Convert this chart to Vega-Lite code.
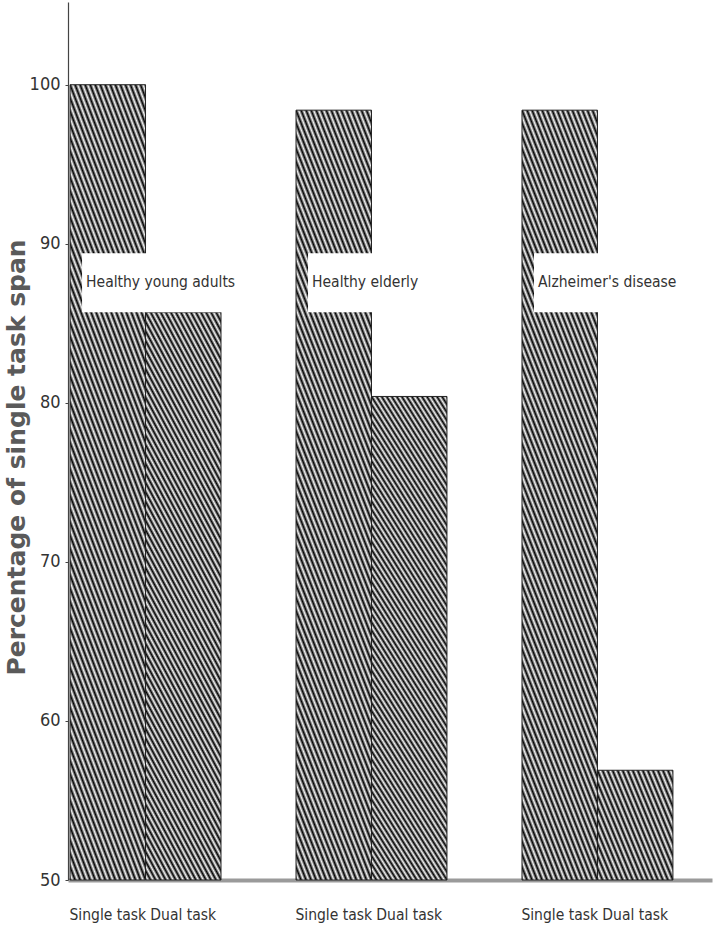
{
  "$schema": "https://vega.github.io/schema/vega-lite/v6.json",
  "width": 644,
  "height": 878,
  "autosize": {"type": "none"},
  "padding": {"left": 68, "top": 2, "right": 7, "bottom": 67},
  "background": "white",
  "config": {"view": {"stroke": null}},
  "data": {
    "values": [
      {"group": "Healthy young adults", "task": "Single task", "value": 100},
      {"group": "Healthy young adults", "task": "Dual task", "value": 85.7},
      {"group": "Healthy elderly", "task": "Single task", "value": 98.4},
      {"group": "Healthy elderly", "task": "Dual task", "value": 80.4},
      {"group": "Alzheimer's disease", "task": "Single task", "value": 98.4},
      {"group": "Alzheimer's disease", "task": "Dual task", "value": 56.9}
    ]
  },
  "encoding": {
    "x": {
      "field": "group",
      "type": "nominal",
      "sort": ["Healthy young adults", "Healthy elderly", "Alzheimer's disease"],
      "scale": {"paddingInner": 0.332, "paddingOuter": 0.091, "align": 0.05},
      "axis": {"labels": false, "ticks": false, "title": null, "domainColor": "#9a9a9a", "domainWidth": 4}
    }
  },
  "layer": [
    {
      "mark": {"type": "bar", "stroke": "#222", "strokeWidth": 1},
      "encoding": {
        "xOffset": {"field": "task", "type": "nominal", "sort": ["Single task", "Dual task"], "scale": {"paddingInner": 0, "paddingOuter": 0}},
        "y": {
          "field": "value",
          "type": "quantitative",
          "scale": {"domain": [50, 105.2], "nice": false, "zero": false},
          "axis": {
            "values": [50, 60, 70, 80, 90, 100],
            "grid": false,
            "domainColor": "#444",
            "domainWidth": 1.2,
            "tickColor": "#444",
            "tickSize": 3,
            "labelPadding": 5,
            "labelFont": "DejaVu Sans Condensed",
            "labelFontSize": 18,
            "labelColor": "#333",
            "title": "Percentage of single task span",
            "titleFont": "DejaVu Sans",
            "titleFontWeight": "bold",
            "titleFontSize": 25,
            "titleColor": "#5a5a5a",
            "titleAngle": 270,
            "titleAlign": "center",
            "titleBaseline": "middle",
            "titleX": -52,
            "titleY": 455
          }
        },
        "y2": {"datum": 50},
        "fill": {
          "condition": [
            {
              "test": "datum.value < 70",
              "value": {
                "gradient": "linear", "x1": 0, "y1": 1, "x2": 3.676, "y2": -1.206,
                "stops": [
                  {"offset":0,"color":"#000"},{"offset":0.0067,"color":"#f4f4f4"},{"offset":0.0133,"color":"#000"},
                  {"offset":0.02,"color":"#f4f4f4"},{"offset":0.0267,"color":"#000"},{"offset":0.0333,"color":"#f4f4f4"},
                  {"offset":0.04,"color":"#000"},{"offset":0.0467,"color":"#f4f4f4"},{"offset":0.0533,"color":"#000"},
                  {"offset":0.06,"color":"#f4f4f4"},{"offset":0.0667,"color":"#000"},{"offset":0.0733,"color":"#f4f4f4"},
                  {"offset":0.08,"color":"#000"},{"offset":0.0867,"color":"#f4f4f4"},{"offset":0.0933,"color":"#000"},
                  {"offset":0.1,"color":"#f4f4f4"},{"offset":0.1067,"color":"#000"},{"offset":0.1133,"color":"#f4f4f4"},
                  {"offset":0.12,"color":"#000"},{"offset":0.1267,"color":"#f4f4f4"},{"offset":0.1333,"color":"#000"},
                  {"offset":0.14,"color":"#f4f4f4"},{"offset":0.1467,"color":"#000"},{"offset":0.1533,"color":"#f4f4f4"},
                  {"offset":0.16,"color":"#000"},{"offset":0.1667,"color":"#f4f4f4"},{"offset":0.1733,"color":"#000"},
                  {"offset":0.18,"color":"#f4f4f4"},{"offset":0.1867,"color":"#000"},{"offset":0.1933,"color":"#f4f4f4"},
                  {"offset":0.2,"color":"#000"},{"offset":0.2067,"color":"#f4f4f4"},{"offset":0.2133,"color":"#000"},
                  {"offset":0.22,"color":"#f4f4f4"},{"offset":0.2267,"color":"#000"},{"offset":0.2333,"color":"#f4f4f4"},
                  {"offset":0.24,"color":"#000"},{"offset":0.2467,"color":"#f4f4f4"},{"offset":0.2533,"color":"#000"},
                  {"offset":0.26,"color":"#f4f4f4"},{"offset":0.2667,"color":"#000"},{"offset":0.2733,"color":"#f4f4f4"},
                  {"offset":0.28,"color":"#000"},{"offset":0.2867,"color":"#f4f4f4"},{"offset":0.2933,"color":"#000"},
                  {"offset":0.3,"color":"#f4f4f4"},{"offset":0.3067,"color":"#000"},{"offset":0.3133,"color":"#f4f4f4"},
                  {"offset":0.32,"color":"#000"},{"offset":0.3267,"color":"#f4f4f4"},{"offset":0.3333,"color":"#000"},
                  {"offset":0.34,"color":"#f4f4f4"},{"offset":0.3467,"color":"#000"},{"offset":0.3533,"color":"#f4f4f4"}
                ]
              }
            }
          ],
          "value": {
            "gradient": "linear", "x1": 0, "y1": 1, "x2": 0.2941, "y2": -0.1765,
            "stops": [
              {"offset":0,"color":"#000"},{"offset":0.0067,"color":"#f4f4f4"},{"offset":0.0133,"color":"#000"},
              {"offset":0.02,"color":"#f4f4f4"},{"offset":0.0267,"color":"#000"},{"offset":0.0333,"color":"#f4f4f4"},
              {"offset":0.04,"color":"#000"},{"offset":0.0467,"color":"#f4f4f4"},{"offset":0.0533,"color":"#000"},
              {"offset":0.06,"color":"#f4f4f4"},{"offset":0.0667,"color":"#000"},{"offset":0.0733,"color":"#f4f4f4"},
              {"offset":0.08,"color":"#000"},{"offset":0.0867,"color":"#f4f4f4"},{"offset":0.0933,"color":"#000"},
              {"offset":0.1,"color":"#f4f4f4"},{"offset":0.1067,"color":"#000"},{"offset":0.1133,"color":"#f4f4f4"},
              {"offset":0.12,"color":"#000"},{"offset":0.1267,"color":"#f4f4f4"},{"offset":0.1333,"color":"#000"},
              {"offset":0.14,"color":"#f4f4f4"},{"offset":0.1467,"color":"#000"},{"offset":0.1533,"color":"#f4f4f4"},
              {"offset":0.16,"color":"#000"},{"offset":0.1667,"color":"#f4f4f4"},{"offset":0.1733,"color":"#000"},
              {"offset":0.18,"color":"#f4f4f4"},{"offset":0.1867,"color":"#000"},{"offset":0.1933,"color":"#f4f4f4"},
              {"offset":0.2,"color":"#000"},{"offset":0.2067,"color":"#f4f4f4"},{"offset":0.2133,"color":"#000"},
              {"offset":0.22,"color":"#f4f4f4"},{"offset":0.2267,"color":"#000"},{"offset":0.2333,"color":"#f4f4f4"},
              {"offset":0.24,"color":"#000"},{"offset":0.2467,"color":"#f4f4f4"},{"offset":0.2533,"color":"#000"},
              {"offset":0.26,"color":"#f4f4f4"},{"offset":0.2667,"color":"#000"},{"offset":0.2733,"color":"#f4f4f4"},
              {"offset":0.28,"color":"#000"},{"offset":0.2867,"color":"#f4f4f4"},{"offset":0.2933,"color":"#000"},
              {"offset":0.3,"color":"#f4f4f4"},{"offset":0.3067,"color":"#000"},{"offset":0.3133,"color":"#f4f4f4"},
              {"offset":0.32,"color":"#000"},{"offset":0.3267,"color":"#f4f4f4"},{"offset":0.3333,"color":"#000"},
              {"offset":0.34,"color":"#f4f4f4"},{"offset":0.3467,"color":"#000"},{"offset":0.3533,"color":"#f4f4f4"},
              {"offset":0.36,"color":"#000"},{"offset":0.3667,"color":"#f4f4f4"},{"offset":0.3733,"color":"#000"},
              {"offset":0.38,"color":"#f4f4f4"},{"offset":0.3867,"color":"#000"},{"offset":0.3933,"color":"#f4f4f4"},
              {"offset":0.4,"color":"#000"},{"offset":0.4067,"color":"#f4f4f4"},{"offset":0.4133,"color":"#000"},
              {"offset":0.42,"color":"#f4f4f4"},{"offset":0.4267,"color":"#000"},{"offset":0.4333,"color":"#f4f4f4"},
              {"offset":0.44,"color":"#000"},{"offset":0.4467,"color":"#f4f4f4"},{"offset":0.4533,"color":"#000"},
              {"offset":0.46,"color":"#f4f4f4"},{"offset":0.4667,"color":"#000"},{"offset":0.4733,"color":"#f4f4f4"},
              {"offset":0.48,"color":"#000"},{"offset":0.4867,"color":"#f4f4f4"},{"offset":0.4933,"color":"#000"},
              {"offset":0.5,"color":"#f4f4f4"},{"offset":0.5067,"color":"#000"},{"offset":0.5133,"color":"#f4f4f4"},
              {"offset":0.52,"color":"#000"},{"offset":0.5267,"color":"#f4f4f4"},{"offset":0.5333,"color":"#000"},
              {"offset":0.54,"color":"#f4f4f4"},{"offset":0.5467,"color":"#000"},{"offset":0.5533,"color":"#f4f4f4"},
              {"offset":0.56,"color":"#000"},{"offset":0.5667,"color":"#f4f4f4"},{"offset":0.5733,"color":"#000"},
              {"offset":0.58,"color":"#f4f4f4"},{"offset":0.5867,"color":"#000"},{"offset":0.5933,"color":"#f4f4f4"},
              {"offset":0.6,"color":"#000"},{"offset":0.6067,"color":"#f4f4f4"},{"offset":0.6133,"color":"#000"},
              {"offset":0.62,"color":"#f4f4f4"},{"offset":0.6267,"color":"#000"},{"offset":0.6333,"color":"#f4f4f4"},
              {"offset":0.64,"color":"#000"},{"offset":0.6467,"color":"#f4f4f4"},{"offset":0.6533,"color":"#000"},
              {"offset":0.66,"color":"#f4f4f4"},{"offset":0.6667,"color":"#000"},{"offset":0.6733,"color":"#f4f4f4"},
              {"offset":0.68,"color":"#000"},{"offset":0.6867,"color":"#f4f4f4"},{"offset":0.6933,"color":"#000"},
              {"offset":0.7,"color":"#f4f4f4"},{"offset":0.7067,"color":"#000"},{"offset":0.7133,"color":"#f4f4f4"},
              {"offset":0.72,"color":"#000"},{"offset":0.7267,"color":"#f4f4f4"},{"offset":0.7333,"color":"#000"},
              {"offset":0.74,"color":"#f4f4f4"},{"offset":0.7467,"color":"#000"},{"offset":0.7533,"color":"#f4f4f4"},
              {"offset":0.76,"color":"#000"},{"offset":0.7667,"color":"#f4f4f4"},{"offset":0.7733,"color":"#000"},
              {"offset":0.78,"color":"#f4f4f4"},{"offset":0.7867,"color":"#000"},{"offset":0.7933,"color":"#f4f4f4"},
              {"offset":0.8,"color":"#000"},{"offset":0.8067,"color":"#f4f4f4"},{"offset":0.8133,"color":"#000"},
              {"offset":0.82,"color":"#f4f4f4"},{"offset":0.8267,"color":"#000"},{"offset":0.8333,"color":"#f4f4f4"},
              {"offset":0.84,"color":"#000"},{"offset":0.8467,"color":"#f4f4f4"},{"offset":0.8533,"color":"#000"},
              {"offset":0.86,"color":"#f4f4f4"},{"offset":0.8667,"color":"#000"},{"offset":0.8733,"color":"#f4f4f4"},
              {"offset":0.88,"color":"#000"},{"offset":0.8867,"color":"#f4f4f4"},{"offset":0.8933,"color":"#000"},
              {"offset":0.9,"color":"#f4f4f4"},{"offset":0.9067,"color":"#000"},{"offset":0.9133,"color":"#f4f4f4"},
              {"offset":0.92,"color":"#000"},{"offset":0.9267,"color":"#f4f4f4"},{"offset":0.9333,"color":"#000"},
              {"offset":0.94,"color":"#f4f4f4"},{"offset":0.9467,"color":"#000"},{"offset":0.9533,"color":"#f4f4f4"},
              {"offset":0.96,"color":"#000"},{"offset":0.9667,"color":"#f4f4f4"},{"offset":0.9733,"color":"#000"},
              {"offset":0.98,"color":"#f4f4f4"},{"offset":0.9867,"color":"#000"},{"offset":0.9933,"color":"#f4f4f4"},
              {"offset":1,"color":"#000"}
            ]
          }
        }
      }
    },
    {
      "transform": [{"filter": "datum.task === 'Single task'"}],
      "mark": {"type": "rect", "fill": "white", "xOffset": 12},
      "encoding": {
        "y": {"datum": 89.4},
        "y2": {"datum": 85.7}
      }
    },
    {
      "transform": [{"filter": "datum.task === 'Single task'"}],
      "mark": {"type": "text", "align": "left", "baseline": "middle", "dx": 16, "font": "DejaVu Sans Condensed", "fontSize": 15.5, "color": "#333"},
      "encoding": {
        "x": {"field": "group", "type": "nominal", "sort": ["Healthy young adults", "Healthy elderly", "Alzheimer's disease"], "bandPosition": 0},
        "y": {"datum": 87.6},
        "text": {"field": "group"}
      }
    },
    {
      "mark": {"type": "text", "align": "center", "baseline": "alphabetic", "dy": 40, "font": "DejaVu Sans Condensed", "fontSize": 15.5, "color": "#333"},
      "encoding": {
        "xOffset": {"field": "task", "type": "nominal", "sort": ["Single task", "Dual task"]},
        "y": {"datum": 50},
        "text": {"field": "task"}
      }
    }
  ]
}
